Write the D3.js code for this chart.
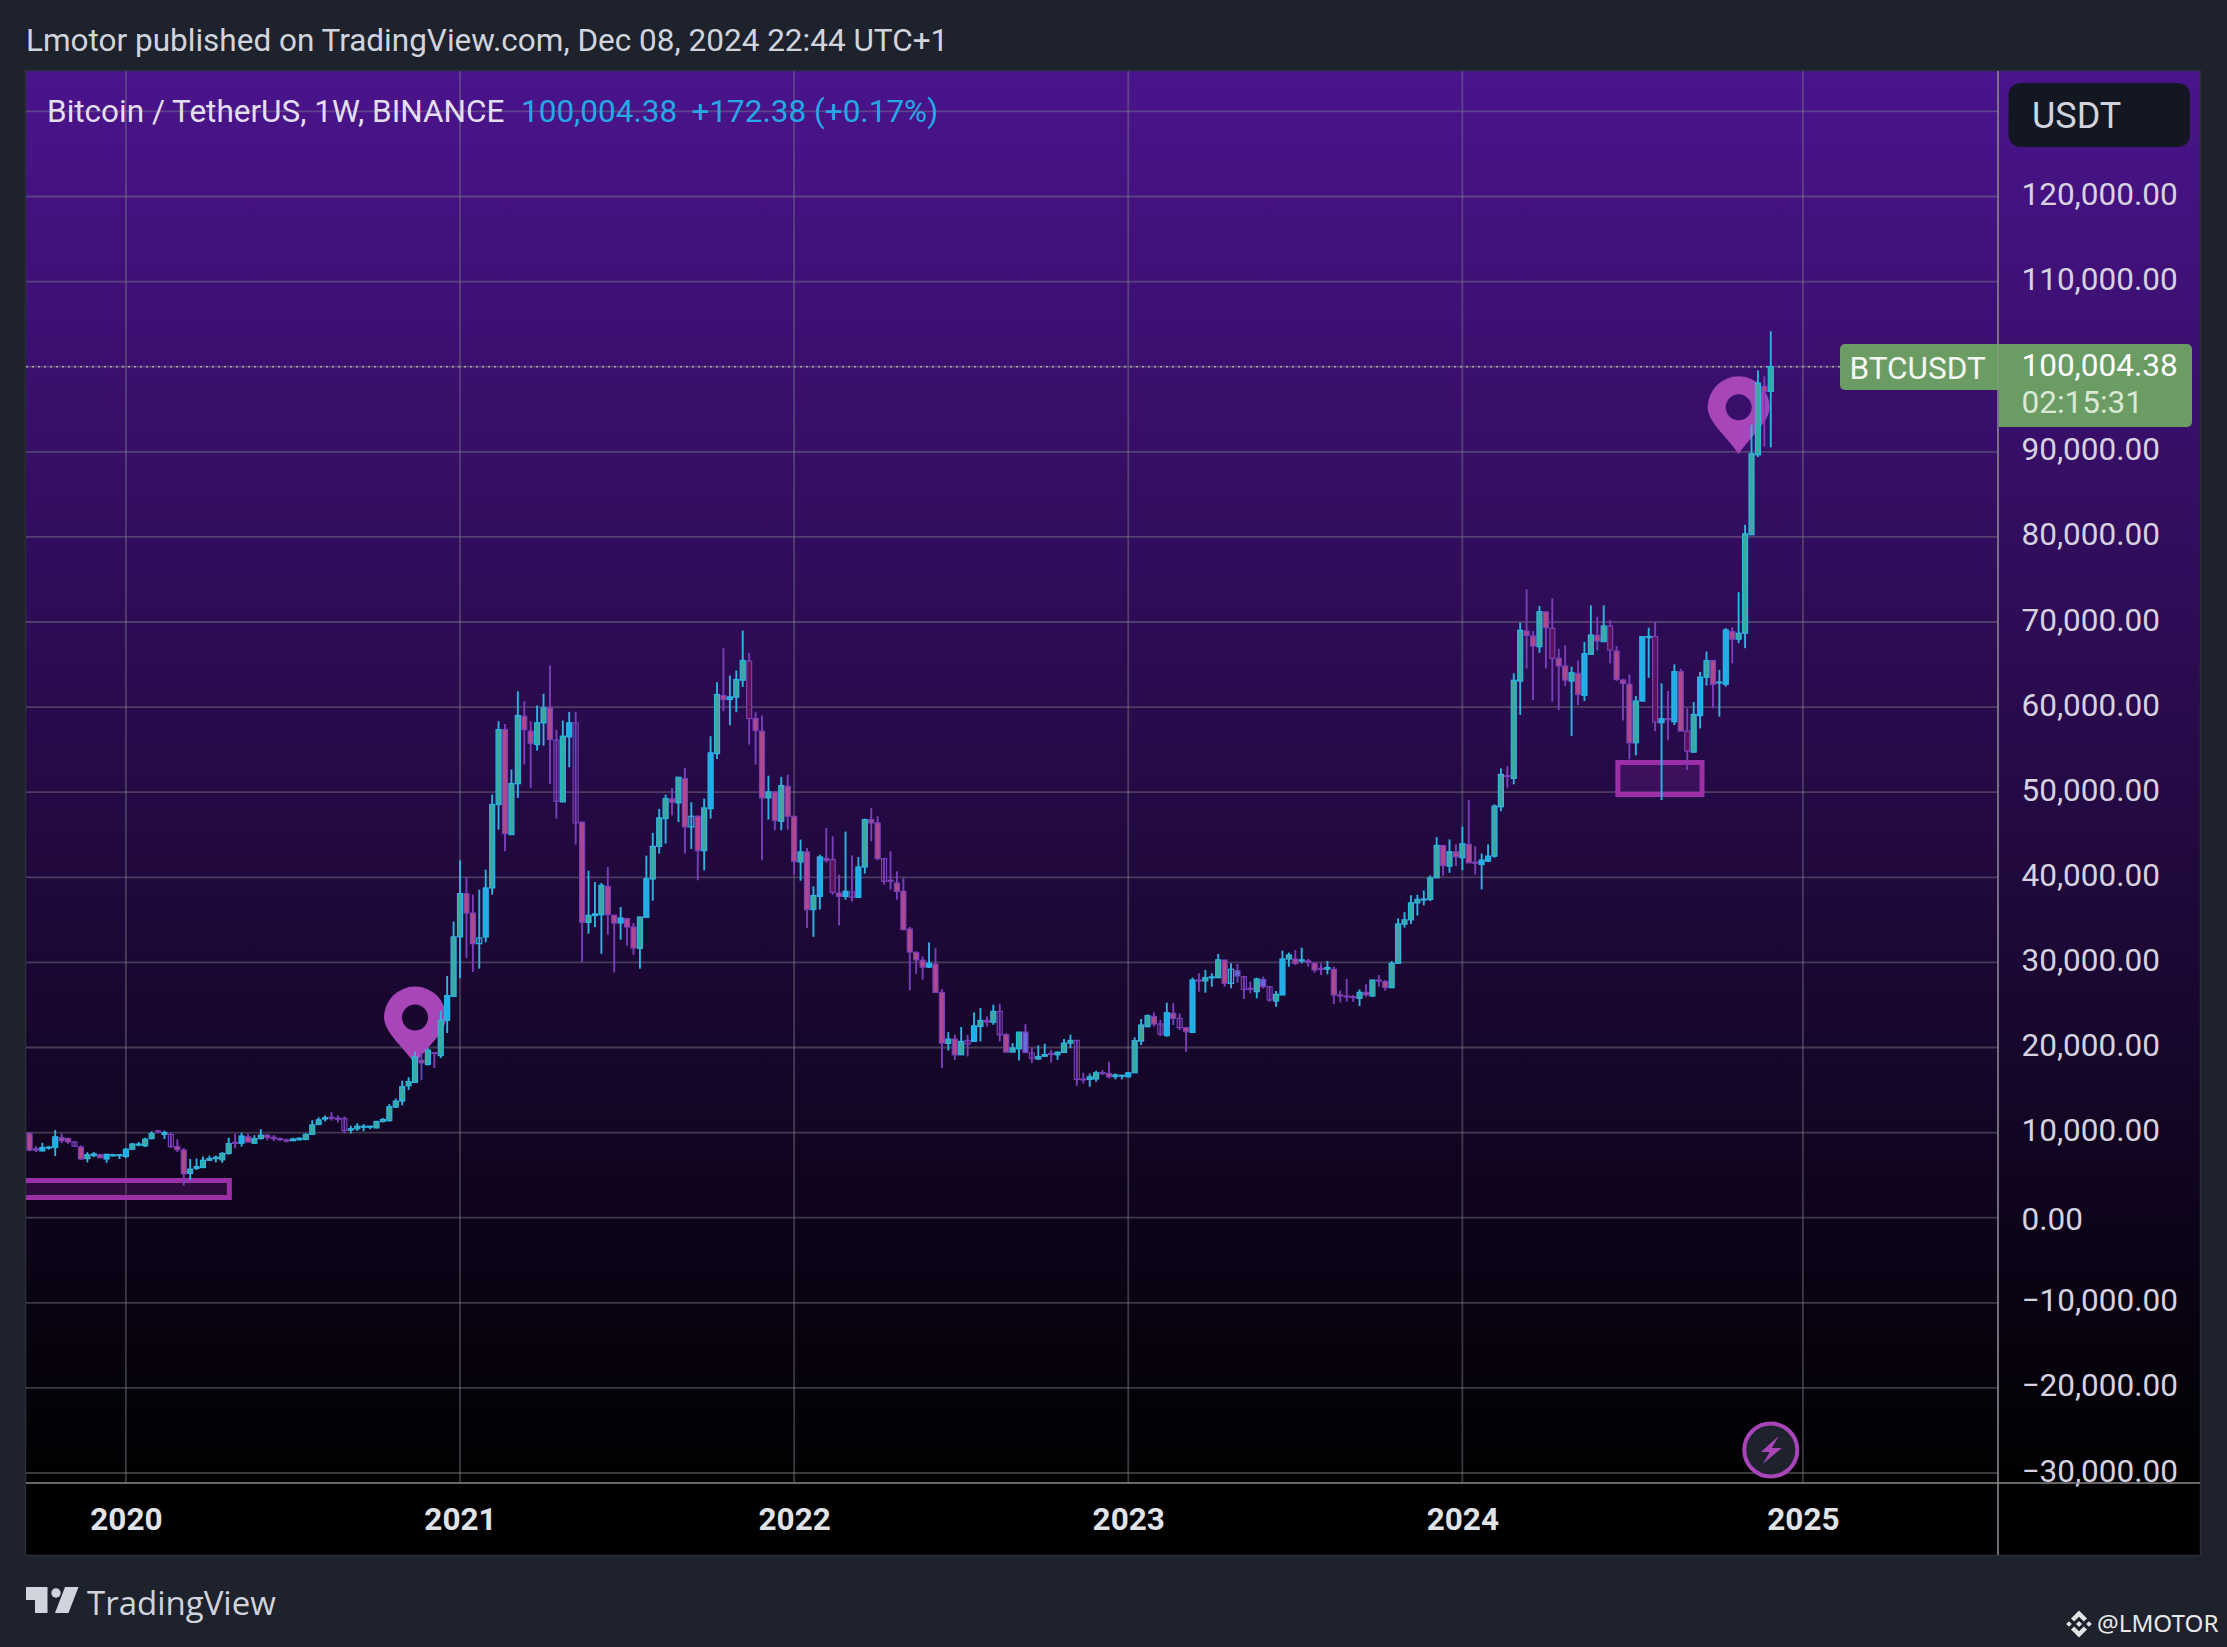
<!DOCTYPE html>
<html>
<head>
<meta charset="utf-8">
<script src="https://d3js.org/d3.v7.min.js"></script>
<style>
  html, body { margin: 0; padding: 0; background: #1e222d; overflow: hidden; }
  text { font-family: Roboto, sans-serif; }
</style>
</head>
<body>
<div id="chart"></div>
<script>
// 1: DATA - weekly candles, week 0 is the first bar of 2020
const firstWeek = -15;
const opens = [
  9900,8100,7850,8250,8250,9400,9300,8900,8300,6950,
  7300,7400,6900,7350,7350,7200,8050,8600,8450,9300,
  10200,9800,9800,8350,7950,5200,5800,5900,6750,6950,
  6800,7550,8850,8750,9500,8750,9300,9700,9450,9300,
  9150,9050,9150,9200,9800,10950,11600,11800,11700,11650,
  10300,10450,10700,10650,10550,11300,11400,13000,13700,15500,
  15900,18500,18000,19400,19050,23200,26000,33000,38080,35800,
  32200,32980,38750,48550,57360,45020,51000,58930,57170,55600,
  58150,59910,56110,48860,56500,58150,46470,34700,35500,35600,
  38940,35530,34630,35140,34160,31640,35300,39800,43640,46900,
  49210,48740,51600,45920,47170,43130,48070,54540,61360,60890,
  61170,63170,65400,58660,57170,49330,50030,46580,50700,47170,
  41800,42980,36200,37750,42230,42080,38150,37750,38270,37650,
  41210,46780,46390,42190,39650,39330,38350,33920,31180,30240,
  29450,29800,26470,20480,20990,19140,20830,20710,22470,23200,
  22960,24240,21500,19460,19850,21810,19340,18650,18970,19300,
  19150,19420,20520,20830,16300,16250,16300,17050,16950,16570,
  16680,16550,17030,20760,22450,23620,22760,21390,24010,23420,
  22330,21780,27930,27830,28200,28200,30280,27540,29030,28320,
  26950,26560,28000,27150,25460,26170,30400,30400,30170,30170,
  29890,29300,29200,29190,26170,26050,25980,25780,26480,26050,
  27930,27740,27030,29890,34500,35000,37000,37400,37390,39940,
  43740,41310,43000,42290,43860,41780,41510,41900,42490,48290,
  51950,51620,63060,68940,68350,67100,71180,69250,65730,64830,
  63060,63960,61380,66200,68430,67690,69530,66590,63180,62670,
  55810,60710,68280,68280,58160,58630,58280,64160,57180,54710,
  59000,63500,65470,62880,62680,68880,67980,68680,80250,89650,
  97700,97100
];
const highs = [
  10050,8400,8800,8400,10300,9900,9400,9000,8500,7700,
  7700,7500,7500,7450,7450,8200,8800,8900,9400,10150,
  10300,10230,10000,9200,8200,6900,6950,7200,7300,7300,
  7700,9400,9900,10000,9900,9700,10400,9800,9700,9400,
  9300,9400,9400,9900,11450,11800,12000,12400,12000,11900,
  10800,11100,11000,10800,11400,11700,13350,14000,16100,16500,
  19500,19400,19900,19400,24300,28400,34800,42000,40040,37960,
  38550,40900,49720,58340,58000,52660,61870,60700,58340,60190,
  61560,64890,57360,58420,59440,59440,46580,40780,39450,39330,
  41210,35600,36510,35220,34630,35340,42550,45210,48030,49720,
  50500,51760,52860,48820,47290,49250,56580,62930,66970,63710,
  64300,69000,66380,59400,59010,51950,50110,51800,52070,47170,
  44430,43450,38940,42660,45800,44820,40310,45370,42550,42390,
  46900,48150,47170,42270,43060,40700,39920,34160,31300,30700,
  32350,31690,26870,21810,21500,22400,21500,24120,24630,23650,
  25020,25140,21690,20520,21810,22750,19930,20240,20440,19730,
  19530,20990,21500,20910,17030,16950,17270,17350,18330,16950,
  16760,17050,21190,23350,23890,24130,23230,25270,25190,24010,
  22440,28210,28720,29110,28720,31000,30280,29890,29810,28400,
  27740,28200,28320,27230,26640,31380,31150,31460,31730,30400,
  30010,29890,30170,29500,26680,28050,26170,26830,27420,27930,
  28520,27930,30170,35180,35900,37900,37950,38450,40210,44720,
  43740,44450,43860,45940,49070,43660,42800,43860,48560,52800,
  53070,63970,69920,73840,68940,71880,71220,72790,66860,67260,
  64750,65490,67650,71960,70630,71960,70200,67180,63340,63850,
  61300,68280,69330,70000,62790,61890,65020,64510,59850,60590,
  64120,66530,65470,64370,69270,69390,73500,81420,93180,99570,
  98870,104160
];
const lows = [
  7800,7700,7800,8000,7250,8750,8700,8300,6800,6500,
  7100,7000,6450,7200,6900,7000,7950,8400,8300,9200,
  9900,9250,8200,7700,3800,4450,5600,5800,6700,6500,
  6450,7400,8150,8350,8800,8700,9200,9100,9000,9000,
  8850,9000,9100,9100,9700,10900,11300,11400,11200,9900,
  9900,10200,10150,10400,10500,11200,11300,12900,13200,15000,
  15900,16200,17900,17600,18750,21700,26000,28150,30500,28870,
  29260,32350,37960,45600,43060,45000,49330,53250,50500,54900,
  55480,50970,46900,48860,52930,43840,30000,33370,34160,31020,
  33250,28830,32670,31960,30900,29260,35300,37250,42780,43960,
  47290,46500,42780,43330,39650,40820,46900,53910,59520,57870,
  59400,62380,55600,53250,42000,46780,45530,45530,45600,40300,
  39600,34040,33000,36200,41690,37960,34350,37370,37170,37570,
  40430,44230,42000,39140,38550,37370,33840,26710,28670,27970,
  29340,26470,17580,19650,18550,19140,18950,20710,20710,22470,
  22670,20710,19460,19460,18480,19420,18170,18550,18950,18240,
  18550,19340,19930,15500,15780,15390,15980,16760,16370,16250,
  16250,16500,17030,20290,22370,22450,21350,21270,22640,22050,
  19500,21780,26560,26440,27150,28200,27150,26950,27620,25700,
  26360,25780,26950,25380,24800,26170,29500,29700,29890,29500,
  28790,28520,28600,25110,25300,25380,25380,24870,25970,25970,
  27150,26680,27030,29890,34100,34500,35500,36700,37200,39940,
  40210,40530,41310,40840,41700,40330,38570,41780,42290,47780,
  50520,50920,59070,64550,60830,66390,64550,60630,59650,62470,
  56590,60240,60710,66200,66670,67690,65140,63060,58440,53850,
  54320,60710,63450,57180,49070,56090,57890,57180,52600,54630,
  57490,62530,59860,58880,62410,65150,67510,66920,80250,89380,
  90630,90520
];
const closes = [
  7950,7950,8250,8300,9500,9050,8900,8400,6900,7400,
  7500,7050,7450,7400,7400,8050,8650,8650,9230,9900,
  10100,10000,8350,8000,5150,5700,6000,6750,6950,7100,
  7550,8700,8750,9600,8900,9300,9700,9450,9300,9200,
  9000,9250,9350,9800,10900,11500,11750,11650,11650,10250,
  10450,10750,10750,10750,11300,11550,13050,13700,15400,16000,
  18900,18200,19700,19300,23200,26100,33000,38080,35800,32200,
  32860,38750,48550,57360,45130,51020,59010,57360,55720,58150,
  59910,56190,48940,56580,58150,46390,34710,35530,35700,39060,
  35600,34630,35220,34160,31690,35340,39840,43640,46980,49250,
  48820,51760,45920,47170,43130,48150,54620,61480,60890,61200,
  63240,65480,58660,57250,49330,50030,46660,50780,47170,41880,
  42980,36200,37850,42390,42000,38230,37760,38350,37650,41210,
  46780,46390,42190,39530,39530,38350,33840,31220,30300,29450,
  29900,26470,20520,20990,19140,20710,20400,22550,23180,23000,
  24240,21500,19460,19930,21810,19420,18750,18940,19170,19200,
  19460,20520,20830,16250,16250,16560,17030,16950,16560,16780,
  16750,17030,20800,22640,23740,22760,21580,24090,23420,22330,
  21860,27930,27830,28200,28300,30300,27540,29190,28400,26830,
  26900,28050,27150,25580,26250,30400,30870,29890,30300,30000,
  29110,29200,29400,26170,26050,25950,25900,26480,26200,27930,
  27800,27070,29890,34520,35000,37000,37400,37450,39940,43740,
  41390,43000,42410,43940,41700,41700,42020,42490,48370,52090,
  51850,63150,69020,68430,67180,71210,69330,65730,64830,63180,
  64040,61500,66280,68470,67770,69530,66710,63260,62790,55810,
  60710,68280,68300,58240,58630,58500,64160,57180,54830,59140,
  63510,65470,62680,62950,69070,67980,68680,80360,89770,98080,
  97100,100004.38
];
// candle kind, one letter per week: b/t/o rising, p/d/h/v falling
const kinds = [
  "ppbbbpphpt","tpbttbtttt","pthppttttt","ttpbpttppp","pttttttpph",
  "tttttttttt","tptptbttpp","obttpttppt","tphtbhptbt","ppbpptbttt",
  "ptpoptbtpb","ttdpptptpp","tptbpdpbhb","tpphpppppp","bpptpthbtp",
  "thpttvhttp","ttthpttppt","tbtttphbph","pbptttpovh","ptvhtbtptp",
  "pptpppptpt","pptttttttt","ptptppbbtt","pttpptpdpp","tpbtptdppp",
  "tbtdbpbpdt","btpbbptttt","pt"
].join("").split("");

const priceTicks = [-30000,-20000,-10000,0,10000,20000,30000,40000,50000,60000,70000,80000,90000,100000,110000,120000];
const priceGrid = priceTicks.concat([130000]);
const yearWeeks = [0,52,104,156,208,261];
const yearLabels = ["2020","2021","2022","2023","2024","2025"];

// drawings on the chart: rectangles and pins as week and price
const zoneWeeks = [[-20,16.1],[232.2,245.3]];
const zonePrices = [[4370,2370],[53490,49730]];
const pinWeeks = [45,251];
const pinPrices = [18000,89700];
const flashWeek = 256;
const flashPrice = -27300;
const lastPrice = 100004.38;

// 2: LAYOUT
const W = 2227, H = 1647;
const panelLeft = 26, panelRight = 2200, panelTop = 71, panelBottom = 1555;
const axisX = 1998, axisY = 1483;
const fontSize = 31.5;

const x = d3.scaleLinear().domain([0,261]).range([125.9,1802.9]);
const y = d3.scaleLinear().domain([0,100000]).range([1217.7,366.7]);

const svg = d3.select("#chart").append("svg")
    .attr("width", W)
    .attr("height", H)
    .style("display", "block");

const defs = svg.append("defs");
const grad = defs.append("linearGradient")
    .attr("id", "bg")
    .attr("x1", 0).attr("x2", 0)
    .attr("y1", 0).attr("y2", 1);
grad.append("stop").attr("offset", "0%").attr("stop-color", "#4a148c");
grad.append("stop").attr("offset", "100%").attr("stop-color", "#000000");

defs.append("clipPath").attr("id", "plot")
    .append("rect")
    .attr("x", panelLeft).attr("y", panelTop)
    .attr("width", axisX - panelLeft).attr("height", axisY - panelTop);

// 3: BACKGROUND
svg.append("rect").attr("width", W).attr("height", H).attr("fill", "#1e222d");
svg.append("rect")
    .attr("x", panelLeft).attr("y", axisY)
    .attr("width", panelRight - panelLeft).attr("height", panelBottom - axisY)
    .attr("fill", "#000");
svg.append("rect")
    .attr("x", panelLeft).attr("y", panelTop)
    .attr("width", panelRight - panelLeft).attr("height", axisY - panelTop)
    .attr("fill", "url(#bg)");
svg.append("rect")
    .attr("x", panelLeft - 0.5).attr("y", panelTop - 0.5)
    .attr("width", panelRight - panelLeft + 1).attr("height", panelBottom - panelTop + 1)
    .attr("fill", "none")
    .attr("stroke", "#2a2e39")
    .attr("stroke-width", 1.5);

// 4: GRID
const plot = svg.append("g").attr("clip-path", "url(#plot)");
const gridColor = "rgba(125,125,135,0.45)";

plot.selectAll(".hgrid")
    .data(priceGrid)
    .enter()
    .append("line")
    .attr("class", "hgrid")
    .attr("x1", panelLeft).attr("x2", axisX)
    .attr("y1", d => y(d)).attr("y2", d => y(d))
    .attr("stroke", gridColor)
    .attr("stroke-width", 1.8);

plot.selectAll(".vgrid")
    .data(yearWeeks)
    .enter()
    .append("line")
    .attr("class", "vgrid")
    .attr("x1", d => x(d)).attr("x2", d => x(d))
    .attr("y1", panelTop).attr("y2", axisY)
    .attr("stroke", gridColor)
    .attr("stroke-width", 1.8);

// dotted last price line
plot.append("line")
    .attr("x1", panelLeft).attr("x2", 1840)
    .attr("y1", y(lastPrice)).attr("y2", y(lastPrice))
    .attr("stroke", "#a8a69e")
    .attr("stroke-width", 1.5)
    .attr("stroke-dasharray", "2 4");

// 5: DRAWINGS UNDER THE CANDLES
const zoneColor = "#9c2fa8";
plot.selectAll(".zone")
    .data(zoneWeeks)
    .enter()
    .append("rect")
    .attr("class", "zone")
    .attr("x", d => x(d[0]))
    .attr("width", d => x(d[1]) - x(d[0]))
    .attr("y", (d, i) => y(zonePrices[i][0]))
    .attr("height", (d, i) => y(zonePrices[i][1]) - y(zonePrices[i][0]))
    .attr("fill", "rgba(156,39,176,0.2)")
    .attr("stroke", zoneColor)
    .attr("stroke-width", 5);

const pinPath = "M0,0 C-10,-16 -31,-32 -31,-47 A31,31 0 1 1 31,-47 C31,-32 10,-16 0,0 Z " +
    "M13,-47 A13,13 0 1 0 -13,-47 A13,13 0 1 0 13,-47 Z";
plot.selectAll(".pin")
    .data(pinWeeks)
    .enter()
    .append("path")
    .attr("class", "pin")
    .attr("d", pinPath)
    .attr("transform", (d, i) => `translate(${x(d)},${y(pinPrices[i])})`)
    .attr("fill", "#a845b8")
    .attr("fill-rule", "evenodd");

// 6: CANDLES
const bodyFill = { b: "#20aeea", t: "#3aa9a0", o: "none", p: "#b0488c", d: "#5c1256", h: "none", v: "#6a6ae0" };
const risingKinds = "bto";
const risingLine = "#2fb4e2";
const fallingLine = "#7a3fb8";
const lineOf = k => risingKinds.includes(k) ? risingLine : fallingLine;

const candles = plot.selectAll(".candle")
    .data(opens.map((o, i) => i))
    .enter()
    .append("g")
    .attr("class", "candle")
    .attr("transform", i => `translate(${x(i + firstWeek)},0)`);

candles.append("line")
    .attr("y1", i => y(highs[i]))
    .attr("y2", i => y(lows[i]))
    .attr("stroke", i => lineOf(kinds[i]))
    .attr("stroke-width", 1.9);

candles.append("rect")
    .attr("x", -2.5)
    .attr("width", 5)
    .attr("y", i => y(Math.max(opens[i], closes[i])))
    .attr("height", i => Math.max(1, Math.abs(y(opens[i]) - y(closes[i]))))
    .attr("fill", i => bodyFill[kinds[i]])
    .attr("stroke", i => lineOf(kinds[i]))
    .attr("stroke-width", 1.2);

// 7: AXES
const priceAxis = svg.append("g")
    .attr("transform", `translate(${axisX},0)`)
    .call(d3.axisRight(y)
        .tickValues(priceTicks)
        .tickFormat(d3.format(",.2f"))
        .tickSize(0)
        .tickPadding(23.5));
priceAxis.select(".domain").remove();
priceAxis.selectAll("text")
    .attr("y", d => d === 0 ? 2 : -2)
    .style("font-family", "Roboto, sans-serif")
    .style("font-size", fontSize + "px")
    .attr("fill", "#d6d2e0");

const timeAxis = svg.append("g")
    .attr("transform", `translate(0,${axisY})`)
    .call(d3.axisBottom(x)
        .tickValues(yearWeeks)
        .tickFormat((d, i) => yearLabels[i])
        .tickSize(0)
        .tickPadding(25));
timeAxis.select(".domain").remove();
timeAxis.selectAll("text")
    .style("font-family", "Roboto, sans-serif")
    .style("font-size", fontSize + "px")
    .style("font-weight", "700")
    .attr("fill", "#e0e3e8");

svg.append("line")
    .attr("x1", axisX).attr("x2", axisX)
    .attr("y1", panelTop).attr("y2", panelBottom)
    .attr("stroke", "#8a8894")
    .attr("stroke-width", 1.6);
svg.append("line")
    .attr("x1", panelLeft).attr("x2", panelRight)
    .attr("y1", axisY).attr("y2", axisY)
    .attr("stroke", "#8a8a8a")
    .attr("stroke-width", 1.6);

// 8: LAST PRICE BADGE
const badgeGreen = "#6a9c64";
svg.append("path")
    .attr("d", "M1845,344 H2000 V390 H1845 a5,5 0 0 1 -5,-5 V349 a5,5 0 0 1 5,-5 Z")
    .attr("fill", badgeGreen);
svg.append("path")
    .attr("d", "M1999,344 H2187 a5,5 0 0 1 5,5 V422 a5,5 0 0 1 -5,5 H1999 Z")
    .attr("fill", badgeGreen);
svg.append("line")
    .attr("x1", axisX).attr("x2", axisX)
    .attr("y1", 344).attr("y2", 390)
    .attr("stroke", "#7f9f7a")
    .attr("stroke-width", 1.5);

function label(tx, ty, str, size, color, weight) {
    return svg.append("text")
        .attr("x", tx).attr("y", ty)
        .attr("dy", "0.35em")
        .style("font-size", size + "px")
        .style("font-weight", weight || 400)
        .attr("fill", color)
        .text(str);
}

label(1849.5, 368, "BTCUSDT", fontSize, "#f4f7f2");
label(2021.5, 364.5, d3.format(",.2f")(lastPrice), fontSize, "#ffffff");
label(2021.5, 401.5, "02:15:31", fontSize, "#dbe8d6");

// 9: CURRENCY BUTTON
svg.append("rect")
    .attr("x", 2008.5).attr("y", 83)
    .attr("width", 181.5).attr("height", 64)
    .attr("rx", 12)
    .attr("fill", "#131722");
label(2032, 115, "USDT", 36, "#d1d4dc");

// 10: HEADER AND LEGEND
label(26, 40, "Lmotor published on TradingView.com, Dec 08, 2024 22:44 UTC+1", fontSize, "#d1d4dc");
label(47, 111, "Bitcoin / TetherUS, 1W, BINANCE", fontSize, "#e4dff0");
label(521, 111, "100,004.38", fontSize, "#25a9e6");
label(691.5, 111, "+172.38 (+0.17%)", fontSize, "#25a9e6");

// 11: LIGHTNING MARK
const flash = svg.append("g")
    .attr("transform", `translate(${x(flashWeek)},${y(flashPrice)})`);
flash.append("circle")
    .attr("r", 26.5)
    .attr("fill", "#1e222d")
    .attr("stroke", "#a845b8")
    .attr("stroke-width", 4);
flash.append("path")
    .attr("d", "M8,-14 L-10,2 L-1,2 L-8,14 L11,-2 L1,-2 Z")
    .attr("fill", "#a845b8");

// 12: FOOTER
const logo = svg.append("g").attr("fill", "#d1d4dc");
logo.append("path").attr("d", "M26,1587 H47.5 V1613 H35 V1600 H26 Z");
logo.append("circle").attr("cx", 56).attr("cy", 1593).attr("r", 4.7);
logo.append("path").attr("d", "M65,1587 H78.5 L68.5,1613 H55 Z");
label(87, 1603, "TradingView", 33, "#d1d4dc", 400).style("font-family", "'Open Sans', sans-serif");

const mark = svg.append("g")
    .attr("transform", "translate(2079,1624)")
    .attr("fill", "#e4e4e4");
mark.selectAll("path")
    .data([[0,0,3],[-10,0,2.8],[10,0,2.8]])
    .enter()
    .append("path")
    .attr("d", d => `M${d[0]-d[2]},${d[1]} L${d[0]},${d[1]-d[2]} L${d[0]+d[2]},${d[1]} L${d[0]},${d[1]+d[2]} Z`);
mark.append("path").attr("d", "M0,-13.5 L8,-5.5 L4.8,-2.5 L0,-7.3 L-4.8,-2.5 L-8,-5.5 Z");
mark.append("path").attr("d", "M0,13.5 L8,5.5 L4.8,2.5 L0,7.3 L-4.8,2.5 L-8,5.5 Z");
label(2097, 1624, "@LMOTOR", 24.2, "#e8e8e8").style("font-family", "'Noto Sans', sans-serif");
</script>
</body>
</html>
